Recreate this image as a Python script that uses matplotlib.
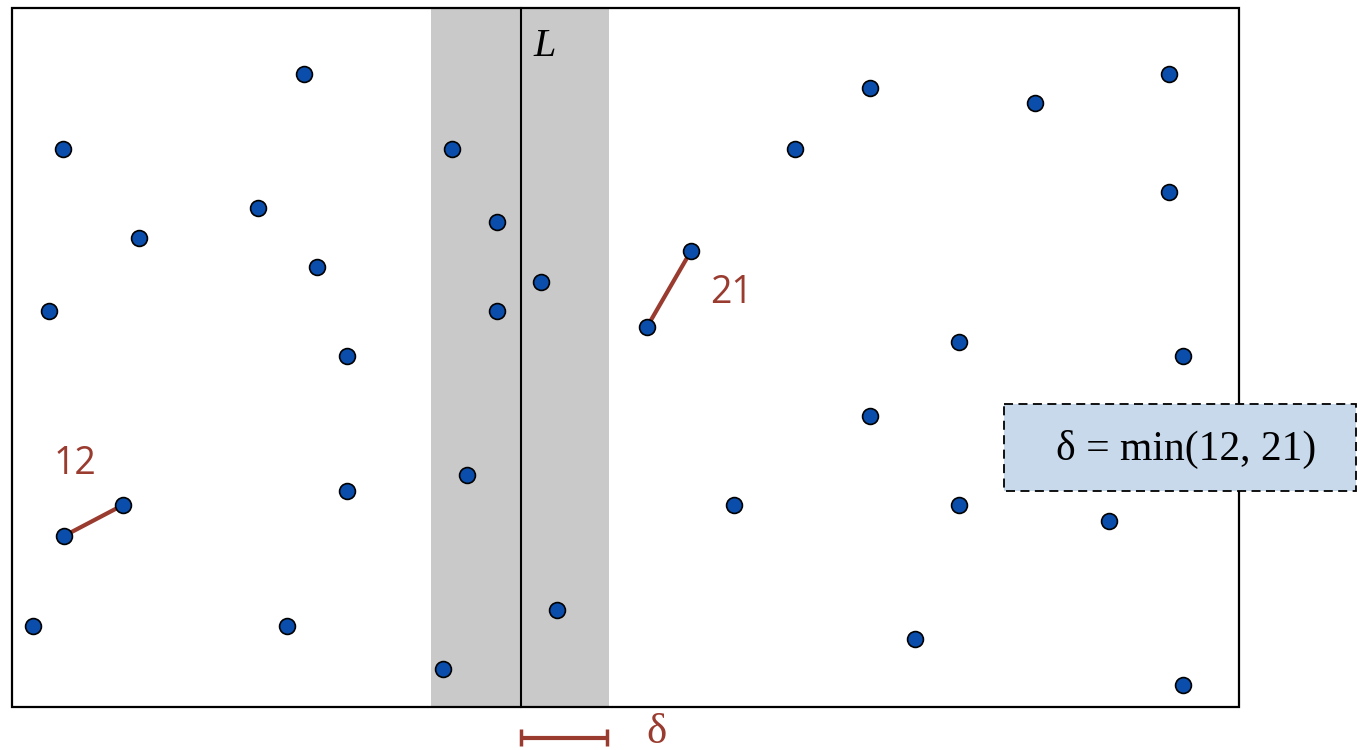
import matplotlib
matplotlib.use("Agg")
import matplotlib.pyplot as plt
from matplotlib.patches import Rectangle

# Point coordinates (pixel-space units of the diagram)
left_x = [304, 63, 258, 139, 317, 49, 347, 123, 64, 347, 33, 287]
left_y = [74, 149, 208, 238, 267, 311, 356, 505, 536, 491, 626, 626]
strip_x = [452, 497, 541, 497, 467, 557, 443]
strip_y = [149, 222, 282, 311, 475, 610, 669]
right_x = [870, 1035, 1169, 795, 1169, 691, 647, 959, 1183, 870, 734, 959, 1109, 915, 1183]
right_y = [88, 103, 74, 149, 192, 251, 327, 342, 356, 416, 505, 505, 521, 639, 685]

# closest pairs on each side
pair12_x = [64, 123]
pair12_y = [536, 505]
pair21_x = [647, 691]
pair21_y = [327, 251]

W, H = 1358, 750
fig = plt.figure(figsize=(13.58, 7.5), dpi=100)
ax = fig.add_axes([0, 0, 1, 1])
ax.set_xlim(0, W)
ax.set_ylim(H, 0)
ax.axis("off")

red = "#9A3B2F"
blue = "#0A4DAA"

# strip
ax.add_patch(Rectangle((431, 8), 178, 699, facecolor="#C9C9C9", edgecolor="none", zorder=0))
# frame
ax.add_patch(Rectangle((12, 8), 1227, 699, facecolor="none", edgecolor="black", lw=1.6, zorder=2))
# dividing line L
ax.plot([521, 521], [8, 707], color="black", lw=1.5, zorder=2)
ax.text(545, 46, "L", fontsize=29, family="Liberation Serif", style="italic",
        ha="center", va="center", zorder=3)

# pair lines
ax.plot(pair12_x, pair12_y, color=red, lw=3, zorder=3, solid_capstyle="butt")
ax.plot(pair21_x, pair21_y, color=red, lw=3, zorder=3, solid_capstyle="butt")
ax.text(75, 464, "12", color=red, fontsize=27, family="Open Sans", ha="center", va="center", zorder=4)
ax.text(731, 293, "21", color=red, fontsize=27, family="Open Sans", ha="center", va="center", zorder=4)

# points
xs = left_x + strip_x + right_x
ys = left_y + strip_y + right_y
ax.scatter(xs, ys, s=130, color=blue, edgecolors="black", linewidths=1.2, zorder=5)

# delta box
ax.add_patch(Rectangle((1004, 404), 352, 87, facecolor="#C9D9EC", edgecolor="black",
                       lw=1.3, linestyle=(0, (5, 3)), zorder=6))
ax.text(1186, 449, "δ = min(12, 21)", fontsize=30, family="Liberation Serif",
        ha="center", va="center", zorder=7)

# delta bracket
ax.plot([521, 607], [738, 738], color=red, lw=3, zorder=3, solid_capstyle="butt")
ax.plot([521, 521], [729, 746], color=red, lw=2.5, zorder=3, solid_capstyle="butt")
ax.plot([607, 607], [729, 746], color=red, lw=2.5, zorder=3, solid_capstyle="butt")
ax.text(656, 733, "δ", color=red, fontsize=31, family="Liberation Serif", ha="center", va="center", zorder=3)

fig.savefig("out.png", dpi=100)
